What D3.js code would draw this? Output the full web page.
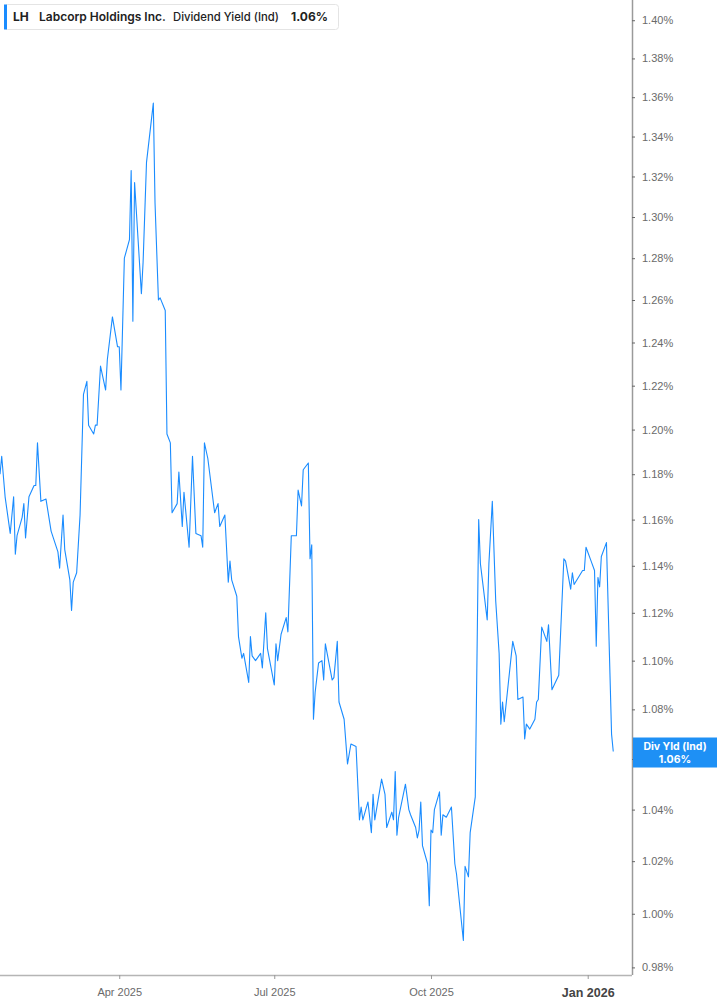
<!DOCTYPE html>
<html>
<head>
<meta charset="utf-8">
<script src="https://cdn.jsdelivr.net/npm/d3@7"></script>
<style>
  body { margin: 0; background: #fff; }
  svg { display: block; font-family: Inter, "Noto Sans", sans-serif; }
</style>
</head>
<body>
<svg id="chart" width="717" height="1005"></svg>
<script>
const ticker = "LH";
const company = "Labcorp Holdings Inc.";
const metric = "Dividend Yield (Ind)";
const metricShort = "Div Yld (Ind)";
const lastLabel = "1.06%";

const dates = [
  "2025-01-21","2025-01-22","2025-01-24","2025-01-27","2025-01-29","2025-01-30","2025-01-31",
  "2025-02-03","2025-02-04","2025-02-05","2025-02-07","2025-02-10","2025-02-11","2025-02-12","2025-02-14","2025-02-17","2025-02-20","2025-02-24","2025-02-25","2025-02-27","2025-02-28",
  "2025-03-03","2025-03-04","2025-03-05","2025-03-07","2025-03-09","2025-03-11","2025-03-13","2025-03-14","2025-03-17","2025-03-18","2025-03-19","2025-03-21","2025-03-24","2025-03-25","2025-03-28","2025-03-31",
  "2025-04-01","2025-04-02","2025-04-04","2025-04-07","2025-04-08","2025-04-09","2025-04-10","2025-04-14","2025-04-15","2025-04-17","2025-04-21","2025-04-22","2025-04-24","2025-04-25","2025-04-28","2025-04-29",
  "2025-05-01","2025-05-02","2025-05-05","2025-05-06","2025-05-08","2025-05-09","2025-05-12","2025-05-14","2025-05-16","2025-05-19","2025-05-20","2025-05-21","2025-05-23","2025-05-27","2025-05-29","2025-05-30",
  "2025-06-02","2025-06-04","2025-06-05","2025-06-06","2025-06-09","2025-06-10","2025-06-12","2025-06-13","2025-06-16","2025-06-17","2025-06-18","2025-06-20","2025-06-23","2025-06-24","2025-06-26","2025-06-27",
  "2025-07-01","2025-07-02","2025-07-03","2025-07-05","2025-07-08","2025-07-09","2025-07-11","2025-07-14","2025-07-15","2025-07-17","2025-07-18","2025-07-21","2025-07-22","2025-07-23","2025-07-24","2025-07-25","2025-07-27","2025-07-29","2025-07-30","2025-07-31",
  "2025-08-04","2025-08-05","2025-08-07","2025-08-08","2025-08-11","2025-08-13","2025-08-15","2025-08-18","2025-08-20","2025-08-21","2025-08-22","2025-08-25","2025-08-27","2025-08-28","2025-08-29",
  "2025-09-02","2025-09-04","2025-09-05","2025-09-08","2025-09-09","2025-09-10","2025-09-11","2025-09-12","2025-09-16","2025-09-18","2025-09-19","2025-09-22","2025-09-23","2025-09-24","2025-09-25","2025-09-26","2025-09-29","2025-09-30",
  "2025-10-01","2025-10-02","2025-10-03","2025-10-06","2025-10-07","2025-10-08","2025-10-10","2025-10-13","2025-10-15","2025-10-16","2025-10-20","2025-10-21","2025-10-23","2025-10-24","2025-10-27","2025-10-29","2025-10-30",
  "2025-11-03","2025-11-04","2025-11-06","2025-11-08","2025-11-10","2025-11-11","2025-11-12","2025-11-13","2025-11-18","2025-11-20","2025-11-21","2025-11-24","2025-11-25","2025-11-26","2025-11-28",
  "2025-12-01","2025-12-02","2025-12-03","2025-12-05","2025-12-08","2025-12-09","2025-12-11","2025-12-15","2025-12-18","2025-12-19","2025-12-22","2025-12-23","2025-12-24","2025-12-29","2025-12-30","2025-12-31",
  "2026-01-03","2026-01-05","2026-01-06","2026-01-07","2026-01-08","2026-01-09","2026-01-12","2026-01-15","2026-01-16"
];

// dividend yield, percent
const yieldPct = [
  1.180,1.188,1.170,1.154,1.170,1.145,1.153,
  1.161,1.167,1.152,1.170,1.175,1.175,1.194,1.168,1.169,1.155,1.146,1.139,1.162,1.147,
  1.134,1.121,1.133,1.137,1.162,1.216,1.222,1.202,1.198,1.202,1.202,1.229,1.218,1.232,1.252,1.238,
  1.238,1.218,1.280,1.289,1.323,1.250,1.317,1.263,1.278,1.327,1.357,1.307,1.260,1.261,1.255,1.198,
  1.194,1.163,1.167,1.181,1.157,1.172,1.148,1.188,1.154,1.153,1.148,1.194,1.187,1.163,1.167,1.157,
  1.162,1.133,1.142,1.134,1.127,1.110,1.101,1.103,1.091,1.110,1.102,1.100,1.103,1.097,1.120,1.105,
  1.090,1.107,1.100,1.111,1.118,1.112,1.153,1.153,1.173,1.166,1.182,1.185,1.143,1.149,1.076,1.087,1.099,1.100,1.092,1.107,
  1.092,1.093,1.108,1.083,1.076,1.058,1.066,1.065,1.036,1.041,1.036,1.043,1.031,1.046,1.036,
  1.052,1.046,1.033,1.039,1.036,1.055,1.030,1.037,1.050,1.040,1.038,1.033,1.029,1.032,1.043,1.026,1.019,1.003,
  1.032,1.031,1.040,1.047,1.030,1.038,1.037,1.041,1.019,1.015,0.990,1.018,1.014,1.031,1.045,1.160,1.141,
  1.117,1.141,1.168,1.125,1.103,1.074,1.083,1.075,1.108,1.102,1.084,1.085,1.068,1.074,1.072,
  1.076,1.083,1.084,1.114,1.108,1.115,1.088,1.094,1.143,1.142,1.130,1.137,1.132,1.138,1.138,1.148,
  1.142,1.138,1.106,1.135,1.131,1.144,1.150,1.070,1.063
];

const yTicks = [0.98,1.00,1.02,1.04,1.06,1.08,1.10,1.12,1.14,1.16,1.18,1.20,1.22,1.24,1.26,1.28,1.30,1.32,1.34,1.36,1.38,1.40];
const xTicks = ["2025-04-01","2025-07-01","2025-10-01","2026-01-01"];
const xTickLabels = ["Apr 2025","Jul 2025","Oct 2025","Jan 2026"];
const xDomain = ["2025-01-21","2026-01-27"];
const yDomain = [0.9772, 1.4107];

const blue = "#1a8cff";
const plotW = 632;
const plotH = 975;

const parse = d3.timeParse("%Y-%m-%d");
const data = dates.map((d, i) => ({ date: parse(d), value: yieldPct[i] }));

const svg = d3.select("#chart");

const x = d3.scaleTime().domain(xDomain.map(parse)).range([0, plotW]);
const y = d3.scaleLog().domain(yDomain).range([plotH, 0]);

// axes
const yAxis = svg.append("g")
  .attr("transform", `translate(${plotW},0)`)
  .call(d3.axisRight(y).tickValues(yTicks).tickSize(3).tickPadding(7)
    .tickFormat((d) => d3.format(".2f")(d) + "%"));
yAxis.select(".domain").attr("stroke", "#9a9a9a").attr("stroke-width", 1.5)
  .attr("d", `M0.5,0V${plotH}`);
yAxis.selectAll(".tick line").attr("stroke", "#666");
yAxis.selectAll(".tick text").attr("fill", "#6a6a6a").attr("font-size", 11);

const xAxis = svg.append("g")
  .attr("transform", `translate(0,${plotH})`)
  .call(d3.axisBottom(x).tickValues(xTicks.map(parse)).tickSize(4).tickPadding(9)
    .tickFormat((d, i) => xTickLabels[i]));
xAxis.select(".domain").attr("stroke", "#b5b5b5").attr("stroke-width", 1.5)
  .attr("d", `M0,0.5H${plotW}`);
xAxis.selectAll(".tick line").attr("stroke", "#999");
xAxis.selectAll(".tick text").attr("fill", "#6a6a6a").attr("font-size", 11);
xAxis.selectAll(".tick text").filter((d, i) => i === xTicks.length - 1)
  .attr("fill", "#444").attr("font-size", 12.5).attr("font-weight", 700);

// series line
const line = d3.line().x((d) => x(d.date)).y((d) => y(d.value));
svg.append("path")
  .datum(data)
  .attr("fill", "none")
  .attr("stroke", blue)
  .attr("stroke-width", 1.1)
  .attr("stroke-linejoin", "round")
  .attr("d", line);

// last value tag on the axis, covering the matching tick label
const last = data[data.length - 1];
const tagY = y(last.value);
svg.append("rect")
  .attr("x", plotW + 1)
  .attr("y", tagY - 14)
  .attr("width", 717 - plotW - 1)
  .attr("height", 30)
  .attr("fill", "#1e90f5");
const tag = svg.append("text")
  .attr("x", 675)
  .attr("text-anchor", "middle")
  .attr("fill", "#fff")
  .attr("font-size", 10.5)
  .attr("font-weight", 700);
tag.append("tspan").attr("x", 675).attr("y", tagY - 2).text(metricShort);
tag.append("tspan").attr("x", 675).attr("y", tagY + 11).text(lastLabel);

// legend box
const legend = svg.append("g");
legend.append("rect")
  .attr("x", 4.5).attr("y", 4.5)
  .attr("width", 334).attr("height", 25)
  .attr("rx", 3)
  .attr("fill", "#fff")
  .attr("stroke", "#e4e4e4");
legend.append("rect")
  .attr("x", 4).attr("y", 4.5)
  .attr("width", 3).attr("height", 25)
  .attr("fill", blue);
const legendItems = [
  { text: ticker, x: 13, size: 12, weight: 700 },
  { text: company, x: 39, size: 12, weight: 600 },
  { text: metric, x: 173, size: 11.3, weight: 500 },
  { text: lastLabel, x: 291, size: 12, weight: 700 },
];
legend.selectAll("text.item")
  .data(legendItems)
  .join("text")
  .attr("class", "item")
  .attr("x", (d) => d.x)
  .attr("y", 21)
  .attr("font-size", (d) => d.size)
  .attr("font-weight", (d) => d.weight)
  .attr("fill", "#222")
  .text((d) => d.text);
</script>
</body>
</html>
